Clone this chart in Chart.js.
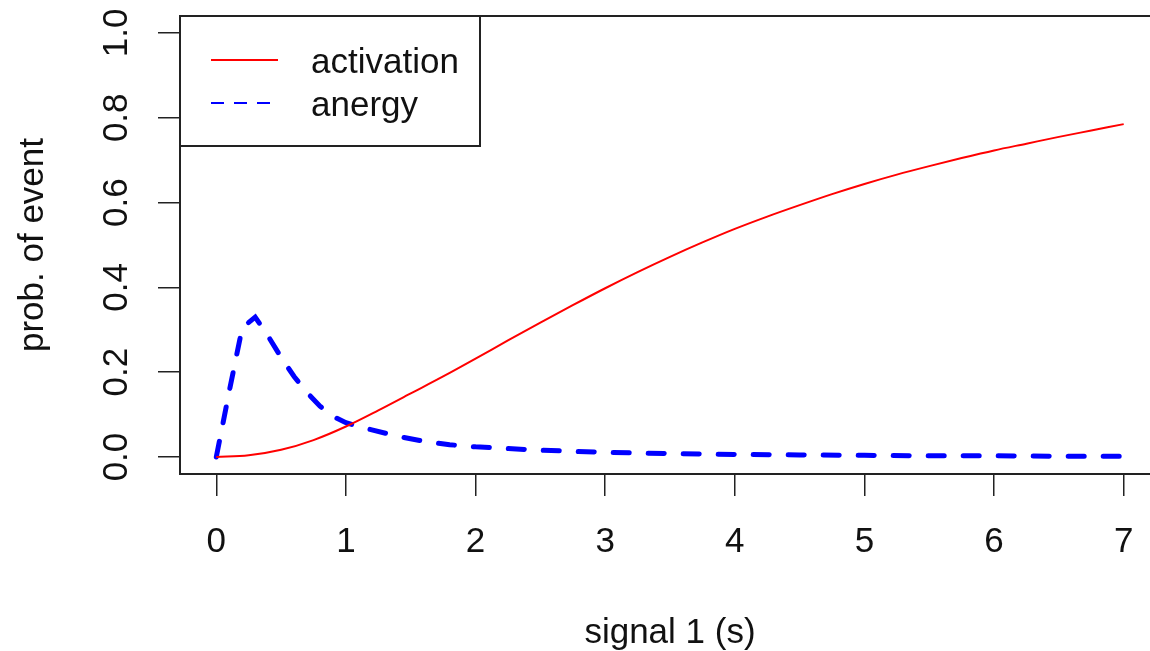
<!DOCTYPE html>
<html>
<head>
<meta charset="utf-8">
<script src="https://cdn.jsdelivr.net/npm/chart.js@4.4.0/dist/chart.umd.min.js"></script>
<style>
html, body { margin: 0; padding: 0; background: #fff; overflow: hidden; }
#wrap { width: 1150px; height: 651px; overflow: hidden; }
</style>
</head>
<body>
<div id="wrap"><canvas id="chart" width="1165" height="651"></canvas></div>
<script>
// values
const activationX = [0, 0.25, 0.5, 0.75, 1, 1.25, 1.5, 1.75, 2, 2.25, 2.5, 2.75, 3, 3.25, 3.5,
    3.75, 4, 4.25, 4.5, 4.75, 5, 5.25, 5.5, 5.75, 6, 6.25, 6.5, 6.75, 7];
const activation = [0, 0.004, 0.017, 0.04, 0.072, 0.11, 0.15, 0.19, 0.232, 0.275, 0.317, 0.358,
    0.398, 0.436, 0.472, 0.506, 0.538, 0.567, 0.594, 0.62, 0.644, 0.666, 0.686, 0.705, 0.723,
    0.739, 0.755, 0.77, 0.785];

const anergyX = [0, 0.1, 0.2, 0.3, 0.4, 0.5, 0.6, 0.7, 0.8, 0.9, 1, 1.1, 1.2, 1.4, 1.6, 1.8, 2,
    2.5, 3, 3.5, 4, 4.5, 5, 5.5, 6, 6.5, 7];
const anergy = [0, 0.155, 0.305, 0.33, 0.285, 0.235, 0.19, 0.152, 0.12, 0.096, 0.081, 0.072,
    0.064, 0.049, 0.037, 0.029, 0.024, 0.016, 0.011, 0.008, 0.006, 0.005, 0.004, 0.003, 0.003,
    0.002, 0.002];

const xTicks = [0, 1, 2, 3, 4, 5, 6, 7];
const yTicks = [0, 0.2, 0.4, 0.6, 0.8, 1.0];
const yTickLabels = ['0.0', '0.2', '0.4', '0.6', '0.8', '1.0'];
const seriesNames = ['activation', 'anergy'];
const xTitle = 'signal 1 (s)';
const yTitle = 'prob. of event';

const fontFamily = '"Liberation Sans", Arial, Helvetica, sans-serif';
const font = '35px ' + fontFamily;
const axisColor = '#222';

function points(xs, ys) {
    return xs.map((x, i) => ({ x: x, y: ys[i] }));
}

// box, rotated y labels, titles and the legend, R style
const rDecorations = {
    id: 'rDecorations',
    afterDraw(chart) {
        const { ctx, chartArea: a, scales: { y } } = chart;
        ctx.save();
        ctx.strokeStyle = axisColor;
        ctx.lineWidth = 2;
        ctx.setLineDash([]);
        ctx.strokeRect(a.left, a.top, a.right - a.left, a.bottom - a.top);

        ctx.fillStyle = '#111';
        ctx.font = font;
        ctx.textAlign = 'center';
        ctx.textBaseline = 'alphabetic';
        yTicks.forEach((v, i) => {
            ctx.save();
            ctx.translate(a.left - 53, y.getPixelForValue(v));
            ctx.rotate(-Math.PI / 2);
            ctx.fillText(yTickLabels[i], 0, 0);
            ctx.restore();
        });

        ctx.save();
        ctx.translate(43, (a.top + a.bottom) / 2);
        ctx.rotate(-Math.PI / 2);
        ctx.fillText(yTitle, 0, 0);
        ctx.restore();

        ctx.fillText(xTitle, (a.left + a.right) / 2, a.bottom + 169);

        // legend
        const lx = a.left, ly = a.top;
        ctx.fillStyle = '#fff';
        ctx.fillRect(lx, ly, 300, 130);
        ctx.strokeStyle = axisColor;
        ctx.lineWidth = 2;
        ctx.strokeRect(lx, ly, 300, 130);
        const ds = chart.data.datasets;
        const rows = [
            { y: ly + 44, color: ds[0].borderColor, dash: [] },
            { y: ly + 87, color: ds[1].borderColor, dash: [13, 10] }
        ];
        rows.forEach((r, i) => {
            ctx.beginPath();
            ctx.strokeStyle = r.color;
            ctx.lineWidth = 2;
            ctx.lineCap = 'butt';
            ctx.setLineDash(r.dash);
            ctx.moveTo(lx + 31, r.y);
            ctx.lineTo(lx + 98, r.y);
            ctx.stroke();
            ctx.setLineDash([]);
            ctx.fillStyle = '#111';
            ctx.textAlign = 'left';
            ctx.fillText(seriesNames[i], lx + 131, r.y + 13);
        });
        ctx.restore();
    }
};

new Chart(document.getElementById('chart'), {
    type: 'line',
    data: {
        datasets: [
            {
                label: seriesNames[0],
                data: points(activationX, activation),
                borderColor: '#ff0000',
                borderWidth: 2,
                pointRadius: 0,
                cubicInterpolationMode: 'monotone'
            },
            {
                label: seriesNames[1],
                data: points(anergyX, anergy),
                borderColor: '#0000ff',
                borderWidth: 5,
                borderDash: [16, 19],
                borderCapStyle: 'round',
                pointRadius: 0,
                tension: 0
            }
        ]
    },
    options: {
        responsive: false,
        animation: false,
        devicePixelRatio: 1,
        layout: { padding: { top: 16, right: 5, left: 0, bottom: 0 } },
        plugins: { legend: { display: false }, tooltip: { enabled: false } },
        scales: {
            x: {
                type: 'linear',
                min: -0.28,
                max: 7.28,
                afterBuildTicks: s => { s.ticks = xTicks.map(v => ({ value: v })); },
                afterFit: s => { s.height = 177; },
                border: { display: false },
                grid: {
                    drawOnChartArea: false,
                    drawTicks: true,
                    tickLength: 22,
                    color: axisColor,
                    lineWidth: 1.5
                },
                ticks: {
                    color: '#111',
                    font: { family: fontFamily, size: 35 },
                    padding: 25,
                    maxRotation: 0,
                    autoSkip: false
                }
            },
            y: {
                type: 'linear',
                min: -0.04,
                max: 1.04,
                afterBuildTicks: s => { s.ticks = yTicks.map(v => ({ value: v })); },
                afterFit: s => { s.width = 180; },
                border: { display: false },
                grid: {
                    drawOnChartArea: false,
                    drawTicks: true,
                    tickLength: 22,
                    color: axisColor,
                    lineWidth: 1.5
                },
                ticks: { display: false }
            }
        }
    },
    plugins: [rDecorations]
});
</script>
</body>
</html>
